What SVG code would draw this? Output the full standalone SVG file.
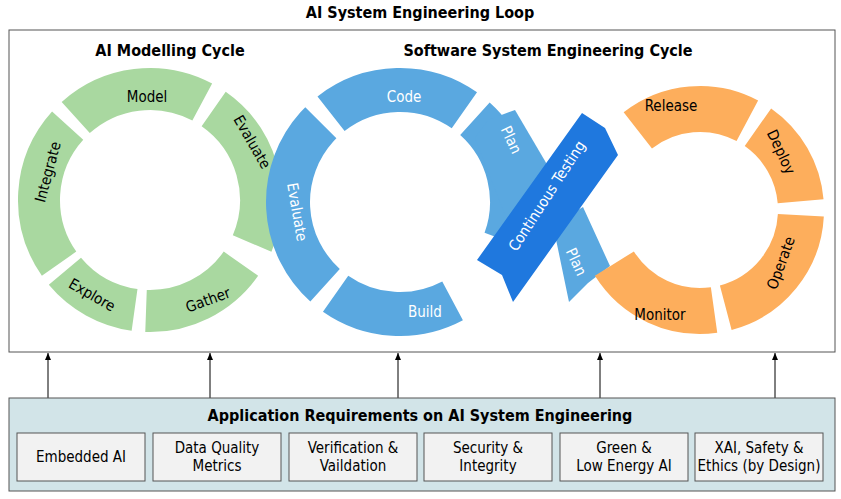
<svg xmlns="http://www.w3.org/2000/svg" width="841" height="499" viewBox="0 0 841 499">
<style>
.t{font-family:"Liberation Sans Narrow","DejaVu Sans Condensed","DejaVu Sans",sans-serif;font-stretch:condensed;font-size:15px;text-anchor:middle;dominant-baseline:central}
.h{font-family:"Liberation Sans Narrow","DejaVu Sans Condensed","DejaVu Sans",sans-serif;font-stretch:condensed;font-size:16px;font-weight:bold;text-anchor:middle;dominant-baseline:central}
.w{fill:#fff}
.g{fill:none;stroke:#a9d8a0;stroke-width:42}
.b{fill:none;stroke:#5aa8e0;stroke-width:44}
.o{fill:none;stroke:#fdae5c;stroke-width:46}
.box{fill:#f2f2f2;stroke:#555;stroke-width:1}
.ar{stroke:#000;stroke-width:1;marker-end:url(#m)}
</style>
<defs><marker id="m" markerWidth="8" markerHeight="8" refX="7" refY="4" orient="auto"><path d="M0,1 L7,4 L0,7 z" fill="#000"/></marker></defs>
<text class="h" x="420" y="12">AI System Engineering Loop</text>
<rect x="9" y="30" width="826" height="322" fill="#fff" stroke="#555"/>
<text class="h" x="170" y="50">AI Modelling Cycle</text>
<text class="h" x="548" y="50">Software System Engineering Cycle</text>
<g id="ai-cycle">
<circle class="g" cx="150" cy="200" r="111" stroke-dasharray="149.2 600" transform="rotate(145 150 200)"/>
<circle class="g" cx="150" cy="200" r="111" stroke-dasharray="135.6 600" transform="rotate(228 150 200)"/>
<circle class="g" cx="150" cy="200" r="111" stroke-dasharray="151.1 600" transform="rotate(305 150 200)"/>
<circle class="g" cx="150" cy="200" r="111" stroke-dasharray="110.4 600" transform="rotate(35 150 200)"/>
<circle class="g" cx="150" cy="200" r="111" stroke-dasharray="81.4 620" transform="rotate(98 150 200)"/>
<text class="t" transform="translate(48,172) rotate(-75)">Integrate</text>
<text class="t" x="147" y="97">Model</text>
<text class="t" transform="translate(252,142) rotate(60)">Evaluate</text>
<text class="t" transform="translate(208,300) rotate(-20)">Gather</text>
<text class="t" transform="translate(92,295) rotate(30)">Explore</text>
</g>
<g id="sw-cycle">
<circle class="b" cx="400" cy="202" r="112" stroke-dasharray="142.7 600" transform="rotate(232 400 202)"/>
<circle class="b" cx="400" cy="202" r="112" stroke-dasharray="132.9 600" transform="rotate(312 400 202)"/>
<circle class="b" cx="400" cy="202" r="112" stroke-dasharray="123.2 600" transform="rotate(62 400 202)"/>
<circle class="b" cx="400" cy="202" r="112" stroke-dasharray="181.8 600" transform="rotate(132 400 202)"/>
<polygon points="475,138 488,120 515,110 565,195 535,235 505,215" fill="#5aa8e0"/>
<polygon points="553,225 583,207 610,266 588,283 569,302" fill="#5aa8e0"/>
<circle class="o" cx="700" cy="210" r="101" stroke-dasharray="116 600" transform="rotate(232 700 210)"/>
<circle class="o" cx="700" cy="210" r="101" stroke-dasharray="88 600" transform="rotate(305 700 210)"/>
<circle class="o" cx="700" cy="210" r="101" stroke-dasharray="127 600" transform="rotate(3 700 210)"/>
<circle class="o" cx="700" cy="210" r="101" stroke-dasharray="116 600" transform="rotate(82 700 210)"/>
<text class="t w" x="404" y="97">Code</text>
<text class="t w" transform="translate(511,140) rotate(65)">Plan</text>
<text class="t w" x="425" y="312">Build</text>
<text class="t w" transform="translate(297,212) rotate(80)">Evaluate</text>
<text class="t w" transform="translate(576,262) rotate(65)">Plan</text>
<text class="t" x="671" y="106">Release</text>
<text class="t" transform="translate(781,152) rotate(65)">Deploy</text>
<text class="t" transform="translate(781,263) rotate(-70)">Operate</text>
<text class="t" x="660" y="315">Monitor</text>
</g>
<g id="continuous-testing">
<polygon points="582,113 605,128 618,155 513,302 502,275 477,260" fill="#1f78de"/>
<text class="t w" transform="translate(547,196) rotate(-57)">Continuous Testing</text>
</g>
<g id="connectors">
<line class="ar" x1="48" y1="398" x2="48" y2="353"/>
<line class="ar" x1="210" y1="398" x2="210" y2="353"/>
<line class="ar" x1="398" y1="398" x2="398" y2="353"/>
<line class="ar" x1="600" y1="398" x2="600" y2="353"/>
<line class="ar" x1="775" y1="398" x2="775" y2="353"/>
</g>
<g id="requirements">
<rect x="9" y="398" width="826" height="93" fill="#d2e4e8" stroke="#555"/>
<text class="h" x="420" y="415">Application Requirements on AI System Engineering</text>
<rect class="box" x="17" y="433" width="128" height="48"/><text class="t" x="81" y="457">Embedded AI</text>
<rect class="box" x="153" y="433" width="128" height="48"/><text class="t" x="217" y="448">Data Quality</text><text class="t" x="217" y="466">Metrics</text>
<rect class="box" x="289" y="433" width="128" height="48"/><text class="t" x="353" y="448">Verification &amp;</text><text class="t" x="353" y="466">Vaildation</text>
<rect class="box" x="424" y="433" width="128" height="48"/><text class="t" x="488" y="448">Security &amp;</text><text class="t" x="488" y="466">Integrity</text>
<rect class="box" x="560" y="433" width="128" height="48"/><text class="t" x="624" y="448">Green &amp;</text><text class="t" x="624" y="466">Low Energy AI</text>
<rect class="box" x="695" y="433" width="128" height="48"/><text class="t" x="759" y="448">XAI, Safety &amp;</text><text class="t" x="759" y="466">Ethics (by Design)</text>
</g>
</svg>
